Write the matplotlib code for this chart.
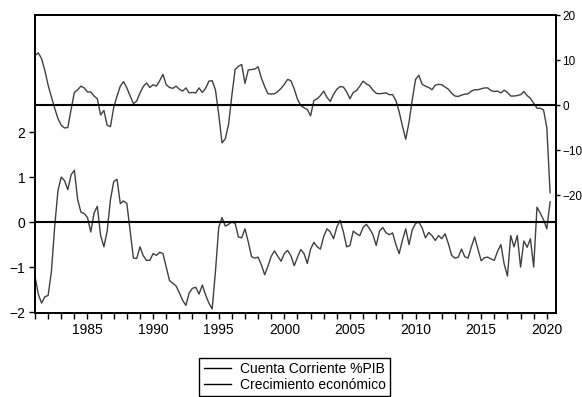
import numpy as np
import pandas as pd
import matplotlib
matplotlib.use("Agg")
import matplotlib.pyplot as plt

# quarterly observations 1981Q1 - 2020Q2
quarters = pd.period_range("1981Q1", "2020Q2", freq="Q")

# left axis: current account (% of GDP)
cuenta_corriente = [
    -1.2, -1.6, -1.8, -1.66,      # 1981
    -1.63, -1.1, -0.1, 0.7,       # 1982
    1.0, 0.92, 0.72, 1.05,        # 1983
    1.15, 0.5, 0.22, 0.19,        # 1984
    0.1, -0.22, 0.2, 0.35,        # 1985
    -0.3, -0.55, -0.2, 0.5,       # 1986
    0.9, 0.95, 0.41, 0.47,        # 1987
    0.41, -0.2, -0.8, -0.81,      # 1988
    -0.55, -0.75, -0.85, -0.85,   # 1989
    -0.7, -0.74, -0.67, -0.7,     # 1990
    -1.0, -1.3, -1.36, -1.42,     # 1991
    -1.57, -1.74, -1.85, -1.57,   # 1992
    -1.47, -1.45, -1.6, -1.4,     # 1993
    -1.62, -1.8, -1.93, -1.1,     # 1994
    -0.12, 0.1, -0.09, -0.05,     # 1995
    0.0, -0.03, -0.33, -0.35,     # 1996
    -0.15, -0.44, -0.77, -0.8,    # 1997
    -0.78, -0.95, -1.17, -0.98,   # 1998
    -0.76, -0.64, -0.76, -0.87,   # 1999
    -0.7, -0.63, -0.75, -0.97,    # 2000
    -0.78, -0.61, -0.7, -0.92,    # 2001
    -0.6, -0.45, -0.55, -0.6,     # 2002
    -0.32, -0.15, -0.22, -0.37,   # 2003
    -0.11, 0.04, -0.22, -0.55,    # 2004
    -0.52, -0.2, -0.26, -0.3,     # 2005
    -0.12, -0.05, -0.15, -0.28,   # 2006
    -0.52, -0.2, -0.12, -0.24,    # 2007
    -0.28, -0.24, -0.5, -0.7,     # 2008
    -0.4, -0.15, -0.5, -0.17,     # 2009
    -0.03, 0.0, -0.13, -0.35,     # 2010
    -0.23, -0.3, -0.41, -0.3,     # 2011
    -0.37, -0.26, -0.48, -0.74,   # 2012
    -0.8, -0.78, -0.6, -0.77,     # 2013
    -0.8, -0.55, -0.33, -0.6,     # 2014
    -0.86, -0.79, -0.78, -0.82,   # 2015
    -0.85, -0.65, -0.5, -0.93,    # 2016
    -1.2, -0.3, -0.55, -0.3,      # 2017
    -1.0, -0.42, -0.56, -0.37,    # 2018
    -1.0, 0.33, 0.2, 0.05,        # 2019
    -0.15, 0.45,                  # 2020
]

# right axis: GDP growth (%)
crecimiento = [
    11.0, 11.6, 10.3, 7.7,        # 1981
    4.4, 1.8, -0.7, -3.0,         # 1982
    -4.5, -5.1, -5.0, -1.0,       # 1983
    2.8, 3.4, 4.2, 3.8,           # 1984
    2.9, 2.9, 2.0, 1.4,           # 1985
    -2.2, -1.2, -4.5, -4.8,       # 1986
    -0.5, 2.0, 4.2, 5.2,          # 1987
    3.8, 2.0, 0.3, 0.9,           # 1988
    2.7, 4.1, 4.9, 3.9,           # 1989
    4.5, 4.2, 5.4, 6.8,           # 1990
    4.5, 3.9, 3.7, 4.2,           # 1991
    3.5, 3.1, 3.8, 2.7,           # 1992
    2.8, 2.7, 3.8, 2.8,           # 1993
    3.7, 5.3, 5.4, 3.4,           # 1994
    -2.1, -8.4, -7.5, -4.3,       # 1995
    2.1, 7.9, 8.6, 9.0,           # 1996
    4.8, 7.8, 7.9, 8.0,           # 1997
    8.5, 6.0, 4.1, 2.5,           # 1998
    2.45, 2.5, 3.0, 3.7,          # 1999
    4.6, 5.7, 5.4, 3.6,           # 2000
    1.3, -0.1, -0.6, -1.0,        # 2001
    -2.4, 1.0, 1.4, 2.1,          # 2002
    3.1, 1.7, 0.8, 2.4,           # 2003
    3.5, 4.1, 4.0, 2.9,           # 2004
    1.4, 2.8, 3.2, 4.2,           # 2005
    5.3, 4.7, 4.3, 3.3,           # 2006
    2.6, 2.5, 2.6, 2.7,           # 2007
    2.3, 2.3, 1.0, -1.5,          # 2008
    -4.7, -7.6, -3.8, 1.2,        # 2009
    5.7, 6.6, 4.6, 4.2,           # 2010
    3.9, 3.4, 4.4, 4.6,           # 2011
    4.5, 4.0, 3.5, 2.6,           # 2012
    2.0, 1.9, 2.2, 2.4,           # 2013
    2.5, 3.1, 3.4, 3.4,           # 2014
    3.6, 3.8, 3.8, 3.2,           # 2015
    3.0, 3.1, 2.7, 3.3,           # 2016
    2.8, 2.0, 2.0, 2.1,           # 2017
    2.3, 3.0, 2.1, 1.5,           # 2018
    0.4, -0.7, -0.7, -1.1,        # 2019
    -5.0, -19.5,                  # 2020
]

labels = ["Cuenta Corriente %PIB", "Crecimiento económico"]

plt.rcParams["font.family"] = ["Liberation Sans", "DejaVu Sans"]
plt.rcParams["font.size"] = 10

t = quarters.year + (quarters.quarter - 1) / 4.0

fig = plt.figure(figsize=(5.82, 3.97), dpi=100)
ax = fig.add_axes([35 / 582, 1 - 313 / 397, 521 / 582, 298 / 397])
ax2 = ax.twinx()

l1, = ax.plot(t, cuenta_corriente, color="#404040", lw=1.0)
l2, = ax2.plot(t, crecimiento, color="#404040", lw=1.0)
ax.axhline(0, color="black", lw=1.5)
ax2.axhline(0, color="black", lw=1.5)

ax.set_xlim(1981, 2020.7)
ax.set_ylim(-2.02, 4.6)
ax2.set_ylim(-46.2, 20)

ax.set_xticks(range(1985, 2021, 5))
ax.set_xticks(range(1981, 2021), minor=True)
ax.set_yticks([-2, -1, 0, 1, 2])
ax2.set_yticks([-20, -10, 0, 10, 20])

for a in (ax, ax2):
    a.tick_params(which="both", direction="out", length=4, width=1, pad=3,
                  labelsize=10, colors="black")
    for s in a.spines.values():
        s.set_linewidth(1.3)
        s.set_color("black")
# right-hand labels sit at the very edge of the picture
ax2.tick_params(axis="y", length=3, pad=1.5, labelsize=8.5)

leg = fig.legend([l1, l2], labels, loc="upper center",
                 bbox_to_anchor=(294.5 / 582, 1 - 358 / 397),
                 fontsize=10, handlelength=2.0, handletextpad=0.6,
                 labelspacing=0.15, borderpad=0.3, borderaxespad=0,
                 fancybox=False, framealpha=1, edgecolor="black")
for h in leg.get_lines():
    h.set_color("black")
    h.set_linewidth(1.0)

fig.savefig("out.png", dpi=100)
